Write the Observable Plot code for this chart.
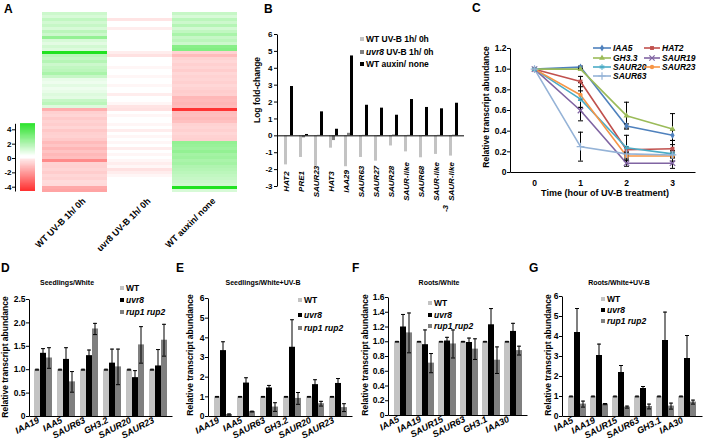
<!DOCTYPE html>
<html><head><meta charset="utf-8">
<script src="https://cdn.jsdelivr.net/npm/d3@7"></script>
<script src="https://cdn.jsdelivr.net/npm/@observablehq/plot@0.6"></script>
<style>
html,body{margin:0;padding:0;background:#fff}
#fig{position:relative;width:708px;height:444px;overflow:hidden;font-family:'Liberation Sans',Arial,sans-serif;font-weight:bold;color:#000}
#fig svg{position:absolute;overflow:visible}
.t{position:absolute;white-space:nowrap;line-height:1;transform-origin:0 0}
.sw{position:absolute}
</style></head><body><div id="fig"></div>
<script>
// ---------------- Panel A: heatmap ----------------
const heatCols = ["WT UV-B 1h/ 0h", "uvr8 UV-B 1h/ 0h", "WT auxin/ none"];
const heatWT = [1.2, 1.0, 1.4, 1.1, 1.3, 1.0, 1.5, 1.2, 2.2, 1.0, 0.8, 1.1, 0.9, 4.2,
  1.5, 1.3, 1.6, 1.2, 1.4, 1.5, 1.8, 1.3, 0.7, 0.6, 0.8, 0.6, 0.7, 0.9, 0.8, 1.3, 1.5, 0.9,
  -1.2, -0.55, -0.45, -0.65, -0.5, -0.6, -0.45, -0.7, -0.55, -0.5, -0.65,
  -0.95, -0.75, -1.05, -0.8, -1.0, -0.9, -1.9, -0.5, -0.55, -0.45, -0.6, -0.4, -0.5, -0.3, -0.35, -1.3, -1.4];
const heatUvr8 = [0.1, 0.05, -0.15, 0.05, 0, -0.1, 0.05, 0, 0.05, 0,
  0.05, 0, 0.05, -0.1, -0.2, 0, 0.05, 0, -0.05, 0.05,
  0, -0.05, 0, 0.05, -0.05, 0, 0.05, -0.1, 0, 0.05,
  -0.05, -0.15, -0.2, 0, -0.05, 0, 0.05, -0.05, 0, -0.1,
  0, -0.05, 0, -0.05, 0, -0.1, 0, -0.05, 0, -0.05,
  -0.1, -0.05, -0.2, -0.1, -0.05, 0, 0.05, 0.1, 0.3, 0.2];
const heatAuxin = [1.3, 1.0, 1.5, 1.2, 1.6, 1.1, 1.4, 1.8, 1.3, 1.5, 1.2, 2.4, 2.5,
  -0.5, -0.95, -0.5, -0.4, -0.55, -0.45, -0.6, -0.4, -0.5, -0.45, -0.55, -0.4, -0.5, -0.6, -0.55,
  -1.0, -0.95, -1.05, -0.95, -3.6, -0.95, -0.9, -1.0, -0.85, -0.5, -0.45, -0.55, -0.4, -0.5, -0.55,
  2.2, 2.1, 2.0, 2.2, 1.9, 2.0, 1.8, 1.9, 1.7, 1.6, 1.5, 1.4, 1.3, 1.2, 1.1, 4.2, 1.0];
const colorbarTicks = [-4, -2, 0, 2, 4];

// ---------------- Panel B ----------------
const bGenes = ["HAT2", "PRE1", "SAUR23", "HAT3", "IAA29", "SAUR63", "SAUR27", "SAUR28", "SAUR-like", "SAUR68", "SAUR-like", "SAUR-like"];
const bWT = [-1.72, -1.28, -1.81, -0.73, -1.83, -1.28, -1.5, -0.6, -0.95, -1.3, -1.1, -1.2];
const bUvr8 = [0.02, -0.12, 0.03, -0.28, 0.15, 0.03, -0.05, 0.05, 0.03, -0.04, 0.03, 0.04];
const bAuxin = [2.92, 0.08, 1.42, 0.39, 4.73, 1.81, 1.64, 1.22, 2.15, 1.68, 1.6, 1.93];
const bTicks = [-3, -2, -1, 0, 1, 2, 3, 4, 5, 6];

// ---------------- Panel C ----------------
const cTimes = [0, 1, 2, 3];
const cGenes = ["IAA5", "HAT2", "GH3.3", "SAUR19", "SAUR20", "SAUR23", "SAUR63"];
const cIAA5 = [1.0, 1.02, 0.45, 0.36];   const cIAA5Err = [0, 0.01, 0.02, 0.05];
const cHAT2 = [1.0, 0.88, 0.22, 0.23];   const cHAT2Err = [0, 0.05, 0.03, 0.08];
const cGH33 = [1.0, 1.0, 0.55, 0.42];    const cGH33Err = [0, 0.01, 0.13, 0.15];
const cSAUR19 = [1.0, 0.6, 0.09, 0.09];  const cSAUR19Err = [0, 0.1, 0.03, 0.05];
const cSAUR20 = [1.0, 0.71, 0.24, 0.18]; const cSAUR20Err = [0, 0.08, 0.12, 0.03];
const cSAUR23 = [1.0, 0.75, 0.16, 0.16]; const cSAUR23Err = [0, 0.12, 0.02, 0.05];
const cSAUR63 = [1.0, 0.25, 0.18, 0.17]; const cSAUR63Err = [0, 0.14, 0.02, 0.02];
const cTicks = [0, 0.2, 0.4, 0.6, 0.8, 1.0, 1.2];

// ---------------- Panels D-G ----------------
const dGenes = ["IAA19", "IAA5", "SAUR63", "GH3.2", "SAUR20", "SAUR23"];
const dWT = [1, 1, 1, 1, 1, 1];            const dWTErr = [0.01, 0.01, 0.01, 0.01, 0.01, 0.01];
const dUvr8 = [1.35, 1.22, 1.3, 1.14, 0.83, 1.08]; const dUvr8Err = [0.1, 0.25, 0.12, 0.3, 0.15, 0.35];
const dRup = [1.25, 0.74, 1.87, 1.06, 1.53, 1.63];  const dRupErr = [0.22, 0.22, 0.12, 0.38, 0.39, 0.34];
const dTicks = [0, 0.5, 1.0, 1.5, 2.0, 2.5];

const eGenes = ["IAA19", "IAA5", "SAUR63", "GH3.2", "SAUR20", "SAUR23"];
const eWT = [1, 1, 1, 1, 1, 1];            const eWTErr = [0.02, 0.02, 0.02, 0.02, 0.02, 0.02];
const eUvr8 = [3.35, 1.7, 1.45, 3.52, 1.62, 1.68]; const eUvr8Err = [0.45, 0.27, 0.13, 1.4, 0.25, 0.25];
const eRup = [0.1, 0.25, 0.48, 0.92, 0.65, 0.45];  const eRupErr = [0.03, 0.02, 0.22, 0.3, 0.12, 0.2];
const eTicks = [0, 1, 2, 3, 4, 5, 6];

const fGenes = ["IAA5", "IAA19", "SAUR15", "SAUR63", "GH3.1", "IAA30"];
const fWT = [1, 1, 1, 1, 1, 1];            const fWTErr = [0.005, 0.005, 0.005, 0.005, 0.005, 0.005];
const fUvr8 = [1.2, 0.96, 1.01, 0.99, 1.23, 1.14]; const fUvr8Err = [0.17, 0.2, 0.05, 0.06, 0.22, 0.11];
const fRup = [1.12, 0.71, 0.97, 0.9, 0.75, 0.88];  const fRupErr = [0.27, 0.13, 0.19, 0.14, 0.18, 0.06];
const fTicks = [0, 0.2, 0.4, 0.6, 0.8, 1.0, 1.2, 1.4, 1.6];

const gGenes = ["IAA5", "IAA19", "SAUR15", "SAUR63", "GH3.1", "IAA30"];
const gWT = [1, 1, 1, 1, 1, 1];            const gWTErr = [0.02, 0.02, 0.02, 0.02, 0.02, 0.02];
const gUvr8 = [4.2, 3.05, 2.2, 1.4, 3.8, 2.9];     const gUvr8Err = [1.2, 0.57, 0.35, 0.1, 1.42, 1.15];
const gRup = [0.62, 0.62, 0.47, 0.5, 0.52, 0.72];  const gRupErr = [0.15, 0.03, 0.05, 0.12, 0.15, 0.1];
const gTicks = [0, 1, 2, 3, 4, 5, 6];

const seriesColors = ["#c3c3c3", "#000000", "#7f7f7f"];

// ================= drawing helpers =================
const FONT = "'Liberation Sans', Arial, sans-serif";
const fig = document.getElementById("fig");
const baseStyle = {fontFamily: FONT, fontWeight: "bold", background: "none", overflow: "visible"};
function put(node, left, top) { node.style.position = "absolute"; node.style.left = left + "px"; node.style.top = top + "px"; fig.appendChild(node); return node; }
function txt(html, x, y, o = {}) {
  const {size = 8.5, rotate = 0, anchor = "middle", italic = false} = o;
  const d = document.createElement("div");
  d.className = "t";
  d.innerHTML = html;
  d.style.fontSize = size + "px";
  if (italic) d.style.fontStyle = "italic";
  const tx = anchor === "middle" ? "-50%" : anchor === "end" ? "-100%" : "0%";
  d.style.transform = `rotate(${rotate}deg) translate(${tx}, -50%)`;
  return put(d, x, y);
}
function box(color, x, y, s) {
  const d = document.createElement("div"); d.className = "sw";
  d.style.width = s + "px"; d.style.height = s + "px"; d.style.background = color;
  return put(d, x - s / 2, y - s / 2);
}
const fmt1 = d => d === 0 ? "0" : d.toFixed(1);
const capSymbol = {draw(ctx, size) { const r = Math.sqrt(size / Math.PI); ctx.moveTo(-r, 0); ctx.lineTo(r, 0); }};

// ================= Panel A =================
const heatMin = -4.6, heatMax = 4.8;
const tOf = v => v < 0 ? 0.5 + 0.5 * v / -heatMin : 0.5 + 0.5 * v / heatMax;
const heatRamp = d3.scaleLinear()
  .domain([tOf(heatMin), tOf(-0.15), tOf(0), tOf(0.3), tOf(heatMax)])
  .range(["#ff0000", "#ffe4e4", "#ffffff", "#ffffff", "#00dd00"])
  .interpolate(d3.interpolateRgb).clamp(true);
const heatColor = {type: "diverging", domain: [heatMin, heatMax], pivot: 0, symmetric: false, interpolate: heatRamp};
const heatSeries = [heatWT, heatUvr8, heatAuxin];
const heatData = heatCols.flatMap((col, j) => heatSeries[j].map((v, row) => ({col, row, v})));
const heatRows = d3.range(heatWT.length);
put(Plot.plot({
  width: 245, height: 262, marginLeft: 42, marginRight: 8, marginTop: 10, marginBottom: 69,
  style: {...baseStyle, fontSize: "9px"},
  x: {domain: heatCols, padding: 0},
  y: {domain: heatRows, padding: 0, axis: null},
  color: heatColor,
  marks: [
    Plot.cell(heatData, {x: "col", y: "row", fill: "v", inset: 0}),
    Plot.axisX({tickRotate: -45, tickSize: 0, tickPadding: 4, dx: 9, dy: 2, fontSize: 9, label: null})
  ]
}), 0, 0);

const cbSteps = d3.range(-4.6, 4.84, 0.02);
put(Plot.plot({
  width: 36, height: 85, marginLeft: 15, marginRight: 1, marginTop: 8.3, marginBottom: 9,
  style: {...baseStyle, fontSize: "8px"},
  x: {domain: [0, 1], axis: null},
  y: {domain: [-4.6, 4.84]},
  color: heatColor,
  marks: [
    Plot.rect(cbSteps, {x1: 0, x2: 1, y1: d => d, y2: d => d + 0.03, fill: d => d, insetLeft: 5}),
    Plot.frame({stroke: "black", strokeDasharray: `0 ${2 * 20 + 67.7} 67.7`}),
    Plot.axisY({ticks: colorbarTicks, tickSize: 3, tickPadding: 1, tickFormat: d => String(d), fontSize: 8, label: null})
  ]
}), 0, 115);

// ================= Panel B =================
const bIdx = d3.range(bGenes.length);
const bFW = 187, bFH = 152;
const bPad = (bFW - 9 * bGenes.length) / (bFW + 9);
put(Plot.plot({
  width: 225, height: 230, marginLeft: 32, marginRight: 6, marginTop: 34, marginBottom: 44,
  style: {...baseStyle, fontSize: "8px"},
  x: {type: "band", domain: bIdx, padding: bPad, axis: null},
  y: {domain: [-3, 6]},
  marks: [
    Plot.barY(bIdx, {x: i => i, y: i => bWT[i], fill: seriesColors[0], insetLeft: 0, insetRight: 6}),
    Plot.barY(bIdx, {x: i => i, y: i => bUvr8[i], fill: seriesColors[2], insetLeft: 3, insetRight: 3}),
    Plot.barY(bIdx, {x: i => i, y: i => bAuxin[i], fill: seriesColors[1], insetLeft: 6, insetRight: 0}),
    Plot.ruleY([0], {stroke: "black"}),
    Plot.frame({stroke: "black", strokeDasharray: `0 ${2 * bFW + bFH} ${bFH}`}),
    Plot.axisY({ticks: bTicks, tickSize: 3, tickPadding: 2, tickFormat: d => String(d), label: null, fontSize: 8}),
    Plot.text(bIdx, {x: i => i, text: i => bGenes[i], frameAnchor: "bottom", rotate: -90, textAnchor: "middle", dy: -5, fontStyle: "italic", fontSize: 8}),
    Plot.text([10], {x: d => d, text: () => "-3", frameAnchor: "bottom", rotate: -90, textAnchor: "middle", dx: 9, dy: 22, fontStyle: "italic", fontSize: 8})
  ]
}), 245, 0);

// ================= Panel C =================
const cSeries = [cIAA5, cHAT2, cGH33, cSAUR19, cSAUR20, cSAUR23, cSAUR63];
const cErrs = [cIAA5Err, cHAT2Err, cGH33Err, cSAUR19Err, cSAUR20Err, cSAUR23Err, cSAUR63Err];
const cColors = ["#4f81bd", "#c0504d", "#9bbb59", "#8064a2", "#4bacc6", "#f79646", "#95b3d7"];
const cSymbols = ["diamond", "square", "triangle", "times", "asterisk", "circle", "plus"];
const cFilled = new Set(["IAA5", "HAT2", "GH3.3", "SAUR23"]);
const cData = cGenes.flatMap((g, j) => cTimes.map((t, k) => ({g, t, v: cSeries[j][k], e: cErrs[j][k]})));
const cErrData = cData.filter(d => d.e > 0);
const cFW = 238 - 40 - 13, cFH = 205 - 48 - 33;
put(Plot.plot({
  width: 238, height: 205, marginLeft: 40, marginRight: 13, marginTop: 48, marginBottom: 33,
  style: {...baseStyle, fontSize: "8.5px"},
  x: {type: "point", domain: cTimes, padding: 0.5},
  y: {domain: [0, 1.2]},
  color: {domain: cGenes, range: cColors},
  symbol: {domain: cGenes, range: cSymbols},
  marks: [
    Plot.frame({stroke: "black", strokeDasharray: `0 ${cFW + cFH} ${cFW + cFH}`}),
    Plot.line(cData, {x: "t", y: "v", z: "g", stroke: "g", strokeWidth: 1.6}),
    Plot.ruleX(cErrData, {x: "t", y1: d => d.v - d.e, y2: d => d.v + d.e, stroke: "black", strokeWidth: 1}),
    Plot.dot(cErrData, {x: "t", y: d => d.v + d.e, symbol: capSymbol, r: 2.5, stroke: "black", strokeWidth: 1}),
    Plot.dot(cErrData, {x: "t", y: d => d.v - d.e, symbol: capSymbol, r: 2.5, stroke: "black", strokeWidth: 1}),
    Plot.dot(cData.filter(d => cFilled.has(d.g)), {x: "t", y: "v", symbol: "g", fill: "g", r: 2.2}),
    Plot.dot(cData.filter(d => !cFilled.has(d.g)), {x: "t", y: "v", symbol: "g", stroke: "g", fill: "none", r: 2.6, strokeWidth: 1.2}),
    Plot.axisY({ticks: cTicks, tickFormat: fmt1, tickSize: 3, tickPadding: 1, label: null}),
    Plot.axisX({ticks: cTimes, tickSize: 0, tickPadding: 7, tickFormat: d => String(d), label: null})
  ]
}), 470, 0);

// ================= Panels D-G =================
function barPanel({axisX, xEnd, yTop, y0, yMax, ticks, fmt, genes, vals, errs}) {
  const top = 280, mL = 26, mR = 4;
  const height = 444 - top;
  const mT = yTop - top, mB = 444 - y0;
  const FW = xEnd - axisX, FH = y0 - yTop;
  const barW = 6, bw = barW * 3, n = genes.length;
  const pad = (FW - bw * n) / (FW + bw);
  const rows = genes.map((g, i) => ({g, i}));
  const marks = [];
  vals.forEach((vs, k) => {
    marks.push(Plot.barY(rows, {x: "g", y: d => vs[d.i], fill: seriesColors[k], insetLeft: k * barW, insetRight: (2 - k) * barW}));
  });
  vals.forEach((vs, k) => {
    const es = errs[k];
    const c = k * barW + barW / 2;
    marks.push(Plot.rectY(rows, {x: "g", y1: d => vs[d.i] - es[d.i], y2: d => vs[d.i] + es[d.i], fill: "black", insetLeft: c - 0.5, insetRight: bw - c - 0.5}));
    marks.push(Plot.tickY(rows, {x: "g", y: d => vs[d.i] + es[d.i], stroke: "black", insetLeft: c - 2, insetRight: bw - c - 2}));
    marks.push(Plot.tickY(rows, {x: "g", y: d => vs[d.i] - es[d.i], stroke: "black", insetLeft: c - 2, insetRight: bw - c - 2}));
  });
  marks.push(Plot.frame({stroke: "black", strokeDasharray: `0 ${FW + FH} ${FW + FH}`}));
  marks.push(Plot.axisY({ticks, tickFormat: fmt, tickSize: 3, tickPadding: 1, label: null, fontSize: 8.5}));
  marks.push(Plot.axisX({tickRotate: -28, tickSize: 0, tickPadding: 2, dx: -5, dy: 1, fontSize: 9, fontStyle: "italic", label: null}));
  return put(Plot.plot({
    width: FW + mL + mR, height, marginLeft: mL, marginRight: mR, marginTop: mT, marginBottom: mB,
    style: {...baseStyle, fontSize: "8.5px"},
    x: {type: "band", domain: genes, padding: pad},
    y: {domain: [0, yMax]},
    marks
  }), axisX - mL, top);
}
barPanel({axisX: 29, xEnd: 172, yTop: 299, y0: 416, yMax: 2.5, ticks: dTicks, fmt: fmt1, genes: dGenes, vals: [dWT, dUvr8, dRup], errs: [dWTErr, dUvr8Err, dRupErr]});
barPanel({axisX: 208, xEnd: 352, yTop: 298, y0: 416, yMax: 6, ticks: eTicks, fmt: d => String(d), genes: eGenes, vals: [eWT, eUvr8, eRup], errs: [eWTErr, eUvr8Err, eRupErr]});
barPanel({axisX: 388, xEnd: 527, yTop: 297, y0: 415, yMax: 1.6, ticks: fTicks, fmt: fmt1, genes: fGenes, vals: [fWT, fUvr8, fRup], errs: [fWTErr, fUvr8Err, fRupErr]});
barPanel({axisX: 562, xEnd: 702, yTop: 296, y0: 416, yMax: 6, ticks: gTicks, fmt: d => String(d), genes: gGenes, vals: [gWT, gUvr8, gRup], errs: [gWTErr, gUvr8Err, gRupErr]});

// ================= texts, legends =================
txt("A", 4, 9, {size: 12, anchor: "start"});
txt("B", 264, 9, {size: 12, anchor: "start"});
txt("C", 472, 8, {size: 12, anchor: "start"});
txt("D", 1, 268, {size: 12, anchor: "start"});
txt("E", 176, 268, {size: 12, anchor: "start"});
txt("F", 352, 268, {size: 12, anchor: "start"});
txt("G", 529, 268, {size: 12, anchor: "start"});

txt("Log fold-change", 257, 90, {rotate: -90});
txt("Relative transcript abundance", 486, 107, {rotate: -90});
txt("Time (hour of UV-B treatment)", 605, 193, {size: 9});

// B legend
const bLegend = ["WT UV-B 1h/ 0h", "<i>uvr8</i> UV-B 1h/ 0h", "WT auxin/ none"];
const bLegendColors = [seriesColors[0], seriesColors[2], seriesColors[1]];
bLegend.forEach((s, k) => { box(bLegendColors[k], 362, 39.3 + k * 12.4, 4); txt(s, 366, 39.3 + k * 12.4, {anchor: "start", size: 8.5}); });

// C legend
const d3Sym = {diamond: d3.symbolDiamond, square: d3.symbolSquare, triangle: d3.symbolTriangle, times: d3.symbolTimes, asterisk: d3.symbolAsterisk, circle: d3.symbolCircle, plus: d3.symbolPlus};
cGenes.forEach((g, j) => {
  const col = j % 2, row = Math.floor(j / 2);
  const x0 = col === 0 ? 593 : 644, w = col === 0 ? 18 : 16;
  const y = 48.3 + row * 9.3;
  const s = d3.create("svg").attr("width", w).attr("height", 8);
  s.append("line").attr("x1", 0).attr("x2", w).attr("y1", 4).attr("y2", 4).attr("stroke", cColors[j]).attr("stroke-width", 1.6);
  const filled = cFilled.has(g);
  s.append("path").attr("transform", `translate(${w / 2},4)`).attr("d", d3.symbol(d3Sym[cSymbols[j]], filled ? 15 : 20)())
    .attr("fill", filled ? cColors[j] : "none").attr("stroke", filled ? "none" : cColors[j]).attr("stroke-width", 1.2);
  put(s.node(), x0, y - 4);
  txt(g, x0 + w + 2, y, {anchor: "start", size: 8.5, italic: true});
});

// D-G titles, y labels, legends
const panelTitles = [["Seedlings/White", 67], ["Seedlings/White+UV-B", 263], ["Roots/White", 439], ["Roots/White+UV-B", 619]];
panelTitles.forEach(([s, x]) => txt(s, x, 282, {size: 7}));
[[5, 357], [190, 355], [365, 355], [548, 355]].forEach(([x, y]) => txt("Relative transcript abundance", x, y, {rotate: -90}));
const legendNames = ["WT", "<i>uvr8</i>", "<i>rup1 rup2</i>"];
const legendPos = [[122, [288, 300, 312]], [300, [300, 315, 328]], [430, [303, 315, 326]], [603, [299, 310, 321]]];
legendPos.forEach(([x, ys]) => ys.forEach((y, k) => { box(seriesColors[k], x, y, 4.5); txt(legendNames[k], x + 4, y, {anchor: "start", size: 8.5}); }));
</script></body></html>
